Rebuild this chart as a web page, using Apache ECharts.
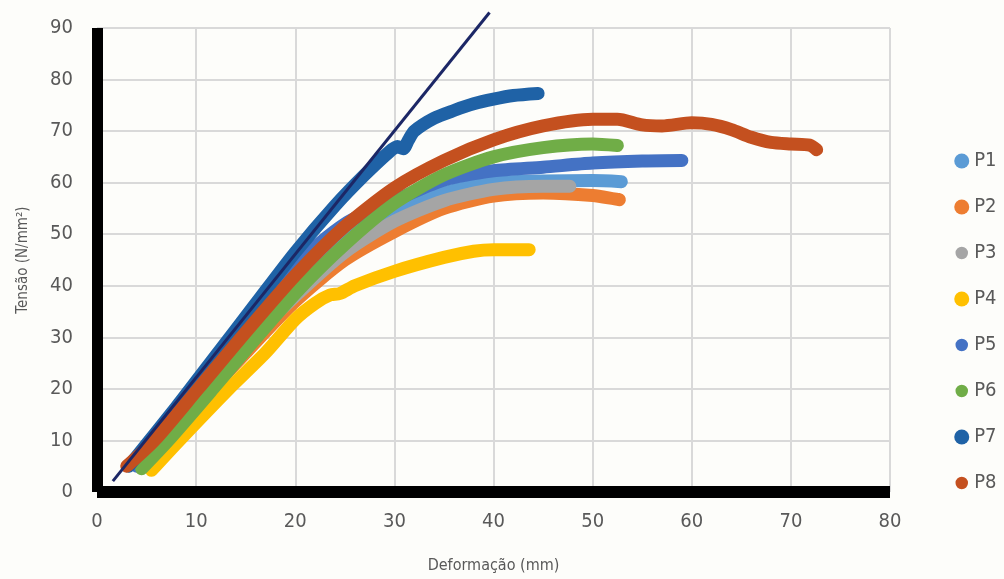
<!DOCTYPE html>
<html>
<head>
<meta charset="utf-8">
<script src="https://cdn.jsdelivr.net/npm/echarts@6/dist/echarts.min.js"></script>
<style>
html,body{margin:0;padding:0;background:#fdfdfa;}
#chart{width:1004px;height:579px;}
</style>
</head>
<body>
<div id="chart"></div>
<script>
// ---- data (Deformação mm, Tensão N/mm²) ----
const seriesNames = ['P1','P2','P3','P4','P5','P6','P7','P8'];
const seriesColors = ['#5b9bd5','#ed7d31','#a5a5a5','#ffc000','#4472c4','#70ad47','#1f62a6','#c4501f'];
const smallLegendMarker = [false,false,true,false,true,true,false,true];

const P1 = [[4.5,5],[10,18.5],[15,30.5],[20,41],[25,49],[30,54.5],[35,58],[40,60],[45,60.3],[50,60.4],[52.9,60.2]];
const P2 = [[5,5],[10,16.5],[15,27],[20,37],[25,45],[30,50.5],[35,55],[40,57.4],[45,58],[50,57.5],[52.7,56.7]];
const P3 = [[4.5,5],[10,17.5],[15,28.5],[20,38],[25,46.5],[30,52.5],[35,56.5],[40,58.7],[45,59.3],[47.7,59.3]];
const P4 = [[5.5,4.2],[8.3,10],[13.3,20],[17,27],[20,33.5],[22,36.6],[23.5,38.2],[24.5,38.5],[26,40],[30,42.8],[35,45.5],[38,46.7],[40,47],[43.6,47]];
const P5 = [[4,5],[10,19.5],[15,32],[20,44],[25,52],[30,56.5],[35,60.5],[40,62.3],[45,63],[50,63.8],[55,64.2],[59,64.3]];
const P6 = [[4.5,4.5],[7.2,10],[11.7,20],[15,27.5],[20,38.5],[25,48],[30,56],[35,61.5],[40,65],[45,66.8],[50,67.5],[52.5,67.2]];
const P7 = [[3.2,5],[8,16.5],[12,26.5],[16,36.5],[20,46.5],[24,55.5],[27,61.5],[29.5,66],[30.3,67],[30.9,66.6],[31.4,68.2],[32,70],[34,72.5],[36,74],[38,75.3],[40,76.2],[42,76.9],[44.5,77.3]];
const P8 = [[3,5],[5.8,10],[10.2,20],[15,31],[20,42],[25,51.5],[30,59],[35,64.3],[40,68.3],[45,71],[50,72.3],[52.5,72.3],[55,71.2],[57,71],[60,71.6],[62,71.3],[64,70.3],[66,68.8],[68,67.8],[70,67.5],[71.9,67.3],[72.6,66.4]];
const trendLine = [[1.6,2.1],[39.6,93]];
const allSeriesData = [P1,P2,P3,P4,P5,P6,P7,P8];

const xTicks = {min:0, max:80, interval:10};
const yTicks = {min:0, max:90, interval:10};

const chart = echarts.init(document.getElementById('chart'), null, {renderer:'canvas'});
const labelFont = '"Liberation Sans Narrow","DejaVu Sans Condensed","Liberation Sans",sans-serif';

const series = seriesNames.map((n,i)=>({
  name:n, type:'line', data:allSeriesData[i], smooth:0.25, symbol:'none',
  lineStyle:{color:seriesColors[i], width:13, cap:'round', join:'round'},
  itemStyle:{color:seriesColors[i]}, z:2+i
}));
series.push({
  name:'linha', type:'line', data:trendLine, symbol:'none', clip:false,
  lineStyle:{color:'#1c2766', width:3}, z:20, silent:true
});

chart.setOption({
  backgroundColor:'#fdfdfa',
  animation:false,
  grid:{left:97, right:114, top:28, bottom:85},
  xAxis:{
    type:'value', min:xTicks.min, max:xTicks.max, interval:xTicks.interval,
    name:'Deformação (mm)', nameLocation:'middle', nameGap:66,
    nameTextStyle:{color:'#595959', fontSize:16, fontFamily:labelFont},
    axisLine:{show:true, onZero:false, lineStyle:{color:'#000', width:12, cap:'butt'}},
    axisTick:{show:false},
    axisLabel:{color:'#595959', fontSize:20, margin:20, fontFamily:labelFont},
    splitLine:{show:true, lineStyle:{color:'#d9d9d9', width:2}}
  },
  yAxis:{
    type:'value', min:yTicks.min, max:yTicks.max, interval:yTicks.interval,
    name:'Tensão (N/mm²)', nameLocation:'middle', nameGap:66, nameRotate:90,
    nameTextStyle:{color:'#595959', fontSize:15, fontFamily:labelFont},
    axisLine:{show:true, onZero:false, lineStyle:{color:'#000', width:11, cap:'butt'}},
    axisTick:{show:false},
    axisLabel:{color:'#595959', fontSize:20, margin:24, fontFamily:labelFont},
    splitLine:{show:true, lineStyle:{color:'#d9d9d9', width:2}}
  },
  legend:{
    orient:'vertical', left:948, top:146,
    itemWidth:15, itemHeight:15, itemGap:26,
    textStyle:{color:'#595959', fontSize:20, lineHeight:20, fontFamily:labelFont},
    data:seriesNames.map((n,i)=>({
      name:n, icon:'circle',
      itemStyle: smallLegendMarker[i] ? {color:seriesColors[i], borderColor:'#fdfdfa', borderWidth:2.5} : {color:seriesColors[i]}
    }))
  },
  series:series
});
</script>
</body>
</html>
